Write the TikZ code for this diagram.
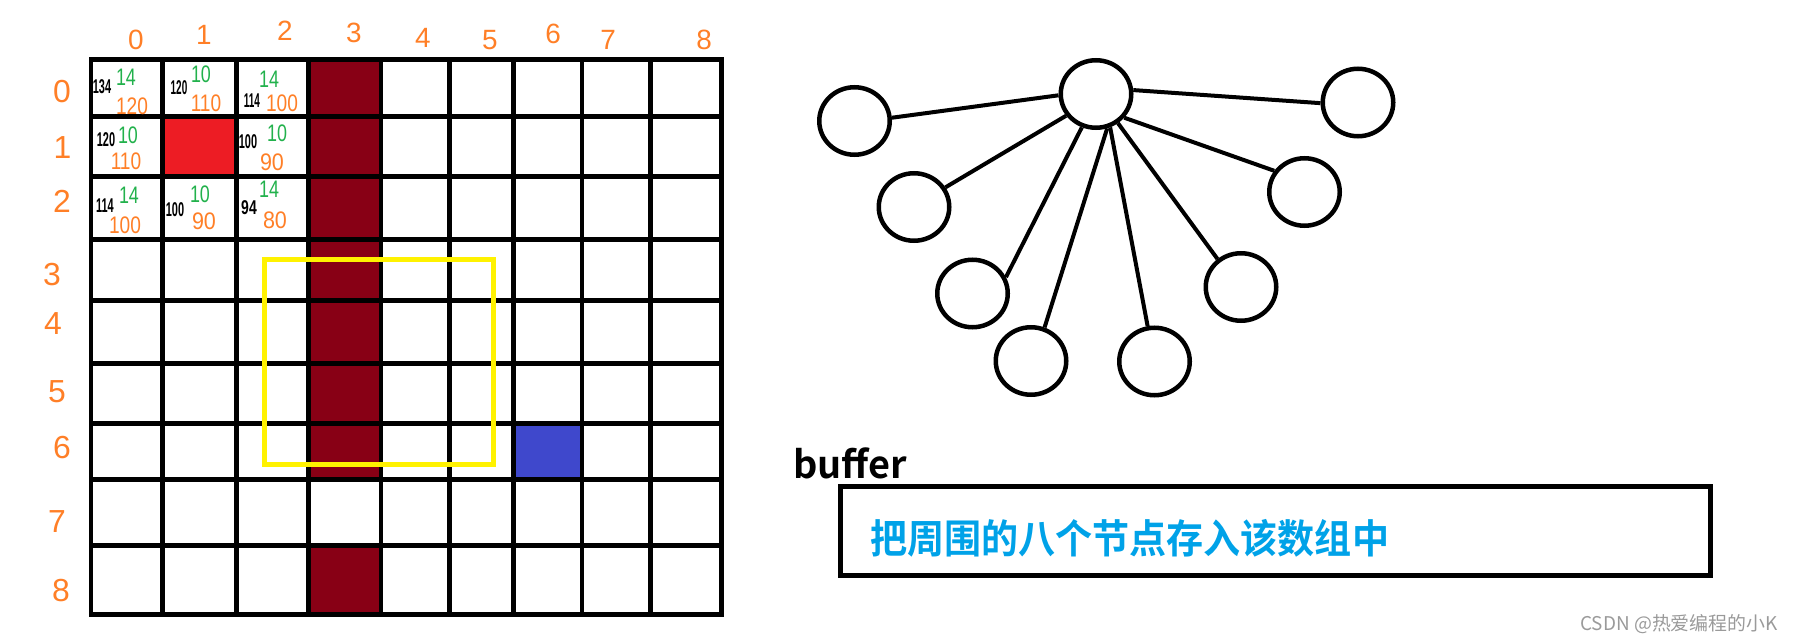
\documentclass[tikz,border=0pt]{standalone}
\usepackage{graphicx}
\usepackage{fontspec}
\setmainfont{Liberation Sans}
\newfontfamily\cjk{Noto Sans CJK SC}[BoldFont={Noto Sans CJK SC Bold}]
\usetikzlibrary{shapes.geometric}
\definecolor{porange}{HTML}{FF7F27}
\definecolor{pgreen}{HTML}{22B14C}
\definecolor{pdarkred}{HTML}{880015}
\definecolor{pred}{HTML}{ED1C24}
\definecolor{pblue}{HTML}{3F48CC}
\definecolor{pyellow}{HTML}{FFF200}
\definecolor{ptext}{HTML}{00A2E8}
\definecolor{pgray}{HTML}{9A9A9A}
\newcommand\narrow[2]{\scalebox{#1}[1]{#2}}
\begin{document}
\begin{tikzpicture}[x=1bp,y=-1bp,
  gridline/.style={line width=4.7bp, line cap=rect},
  vertex/.style={draw, ellipse, line width=4.5bp, minimum width=70.5bp, minimum height=67.5bp, inner sep=0pt},
  link/.style={line width=4bp},
  collbl/.style={text=porange, inner sep=0pt, font=\fontsize{28}{28}\selectfont},
  rowlbl/.style={text=porange, inner sep=0pt, font=\fontsize{32}{32}\selectfont},
  gnum/.style={text=pgreen, inner sep=0pt, font=\fontsize{24}{24}\selectfont},
  onum/.style={text=porange, inner sep=0pt, font=\fontsize{24}{24}\selectfont},
  knum/.style={text=black, inner sep=0pt, font=\bfseries\fontsize{20}{20}\selectfont}]
\useasboundingbox (0,0) rectangle (1794,643);
% coloured cells
\fill[pdarkred] (308.5,59.5) rectangle (381,479.5);
\fill[pdarkred] (308.5,545.5) rectangle (381,614.5);
\fill[pred] (162.5,116.5) rectangle (236.5,176.5);
\fill[pblue] (513.5,423.5) rectangle (582,479.5);
% grid
\foreach \gx in {91,162.5,236.5,308.5,381,449.5,513.5,582,650.5,721.5}
  \draw[gridline] (\gx,59.5) -- (\gx,614.5);
\foreach \gy in {59.5,116.5,176.5,239.5,300.5,363.5,423.5,479.5,545.5,614.5}
  \draw[gridline] (91,\gy) -- (721.5,\gy);
% yellow window
\draw[pyellow, line width=5bp] (264.5,259.5) rectangle (493.5,464.5);
% column labels
\node[collbl] (c0) at (136,40) {0};
\node[collbl] (c1) at (204,35) {1};
\node[collbl] (c2) at (285,31) {2};
\node[collbl] (c3) at (354,33) {3};
\node[collbl] (c4) at (423,38) {4};
\node[collbl] (c5) at (490,40) {5};
\node[collbl] (c6) at (553,34) {6};
\node[collbl] (c7) at (608,40) {7};
\node[collbl] (c8) at (704,40) {8};
% row labels
\node[rowlbl] (r0) at (62,92) {0};
\node[rowlbl] (r1) at (62.5,148) {1};
\node[rowlbl] (r2) at (62,201) {2};
\node[rowlbl] (r3) at (52,275) {3};
\node[rowlbl] (r4) at (53,324) {4};
\node[rowlbl] (r5) at (57,392) {5};
\node[rowlbl] (r6) at (62,448) {6};
\node[rowlbl] (r7) at (57,522) {7};
\node[rowlbl] (r8) at (61,591) {8};
% cell values
\node[gnum] (g00) at (126,77) {\narrow{0.75}{14}};
\node[knum] (k00) at (102,87) {\narrow{0.55}{134}};
\node[onum] (o00) at (132,106) {\narrow{0.8}{120}};
\node[gnum] (g01) at (201,74) {\narrow{0.75}{10}};
\node[knum] (k01) at (179,88) {\narrow{0.5}{120}};
\node[onum] (o01) at (206,103) {\narrow{0.8}{110}};
\node[gnum] (g02) at (269,79) {\narrow{0.75}{14}};
\node[knum] (k02) at (252,101) {\narrow{0.5}{114}};
\node[onum] (o02) at (282,103) {\narrow{0.8}{100}};
\node[gnum] (g10) at (128,135) {\narrow{0.75}{10}};
\node[knum] (k10) at (106,140) {\narrow{0.55}{120}};
\node[onum] (o10) at (126,161) {\narrow{0.8}{110}};
\node[gnum] (g12) at (277,133) {\narrow{0.75}{10}};
\node[knum] (k12) at (248,142) {\narrow{0.55}{100}};
\node[onum] (o12) at (272,162) {\narrow{0.9}{90}};
\node[gnum] (g20) at (129,195) {\narrow{0.75}{14}};
\node[knum] (k20) at (105,206) {\narrow{0.55}{114}};
\node[onum] (o20) at (125,225) {\narrow{0.8}{100}};
\node[gnum] (g21) at (200,194) {\narrow{0.75}{10}};
\node[knum] (k21) at (175,210) {\narrow{0.55}{100}};
\node[onum] (o21) at (204,221) {\narrow{0.9}{90}};
\node[gnum] (g22) at (269,189) {\narrow{0.75}{14}};
\node[knum] (k22) at (249,208) {\narrow{0.7}{94}};
\node[onum] (o22) at (275,220) {\narrow{0.9}{80}};
% graph
\node[vertex] (n0) at (1096,94) {};
\node[vertex] (n1) at (854.5,121) {};
\node[vertex] (n2) at (914,207) {};
\node[vertex] (n3) at (972.5,293.5) {};
\node[vertex] (n4) at (1031,361) {};
\node[vertex] (n5) at (1154.5,361.5) {};
\node[vertex] (n6) at (1241,287) {};
\node[vertex] (n7) at (1304.5,192) {};
\node[vertex] (n8) at (1358,102.5) {};
\draw[link] (n0.182) -- (n1.5);
\draw[link] (n0.216) -- (n2.32);
\draw[link] (n0.247) -- (n3.26);
\draw[link] (n0.288) -- (n4.68);
\draw[link] (n0.293) -- (n5.101);
\draw[link] (n0.307) -- (n6.130);
\draw[link] (n0.320) -- (n7.145);
\draw[link] (n0.6) -- (n8.181);
% buffer
\node[anchor=base west, inner sep=0pt, font=\cjk\bfseries\fontsize{38}{38}\selectfont] (buflbl) at (793,478) {buffer};
\node[draw, line width=5bp, minimum width=870bp, minimum height=89bp, inner sep=0pt] (bufbox) at (1275.5,531) {};
\node[anchor=west, inner sep=0pt, text=ptext, font=\cjk\bfseries\fontsize{40}{40}\selectfont] (buftext) at (870,538.5) {\narrow{0.93}{把周围的八个节点存入该数组中}};
% watermark
\node[anchor=east, inner sep=0pt, text=pgray, font=\cjk\fontsize{19}{19}\selectfont] (wm) at (1778,624) {CSDN @热爱编程的小K};
\end{tikzpicture}
\end{document}
